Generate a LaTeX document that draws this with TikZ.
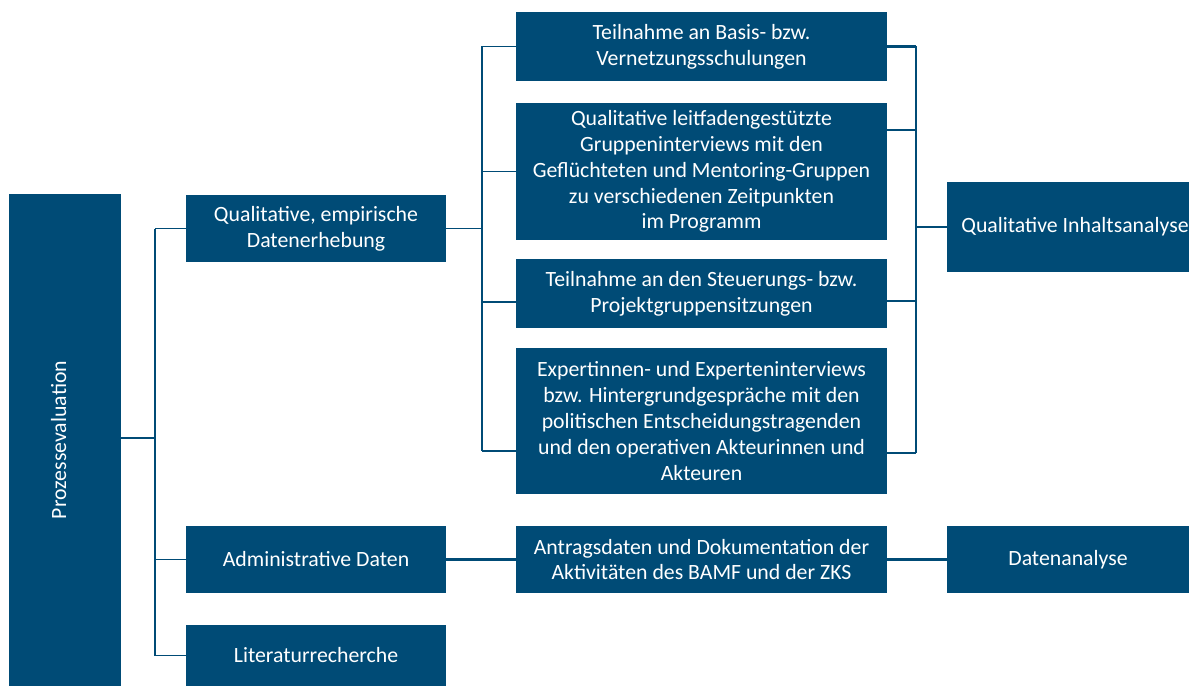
\documentclass[tikz,border=0pt]{standalone}
\usepackage{fontspec}
\setmainfont{Carlito}
\usetikzlibrary{positioning}
\definecolor{bamfblue}{HTML}{004B76}
\tikzset{
  box/.style = {rectangle, fill=bamfblue, text=white, align=center,
      inner sep=0pt, font=\fontsize{12.4}{14.7}\selectfont},
  col1/.style = {box, minimum width=5.2cm},
  col2/.style = {box, minimum width=7.42cm},
  col3/.style = {box, minimum width=4.84cm},
  link/.style = {draw=bamfblue, line width=1.1pt},
  rlink/.style = {draw=bamfblue, line width=1.6pt},
}
\begin{document}
\begin{tikzpicture}[x=.02cm, y=-.02cm]
  \useasboundingbox (0,0) rectangle (1189,686);

  % left column
  \node[box, minimum width=2.24cm, minimum height=9.84cm] (proz) at (65,440)
    {\rotatebox{90}{Prozessevaluation}\hspace{.25cm}};
  \node[col1, minimum height=1.36cm] (qed) at (316,228.5)
    {Qualitative, empirische\\Datenerhebung};
  \node[col1, minimum height=1.34cm] (adm) at (316,559.5) {Administrative Daten};
  \node[col1, minimum height=1.22cm] (lit) at (316,655.5) {Literaturrecherche};

  % middle column
  \node[col2, minimum height=1.38cm] (b1) at (701.5,46.5)
    {Teilnahme an Basis- bzw.\\Vernetzungsschulungen};
  \node[col2, minimum height=2.74cm] (b2) at (701.5,171.5)
    {Qualitative leitfadengestützte\\Gruppeninterviews mit den\\Geflüchteten und Mentoring-Gruppen\\zu verschiedenen Zeitpunkten\\im Programm};
  \node[col2, minimum height=1.38cm] (b3) at (701.5,293.5)
    {Teilnahme an den Steuerungs- bzw.\\Projektgruppensitzungen};
  \node[col2, minimum height=2.92cm] (b4) at (701.5,421)
    {Expertinnen- und Experteninterviews\\bzw. Hintergrundgespräche mit den\\politischen Entscheidungstragenden\\und den operativen Akteurinnen und\\Akteuren};
  \node[col2, minimum height=1.34cm] (antr) at (701.5,559.5)
    {Antragsdaten und Dokumentation der\\Aktivitäten des BAMF und der ZKS};

  % right column
  \node[col3, minimum height=1.8cm] (inh) at (1068,227) {\hspace{.28cm}Qualitative Inhaltsanalyse};
  \node[col3, minimum height=1.34cm] (dat) at (1068,559.5) {Datenanalyse};

  % left fork
  \coordinate (lfork) at (155,438);
  \draw[link] (proz.east |- lfork) -- (lfork);
  \draw[link] (lfork |- qed) -- (lfork |- lit);
  \draw[link] (lfork |- qed) -- (qed.west);
  \draw[link] (lfork |- adm) -- (adm.west);
  \draw[link] (lfork |- lit) -- (lit.west);

  % middle fork
  \coordinate (mfork) at (482,0);
  \coordinate (m3) at (482,302);
  \coordinate (m4) at (482,451);
  \draw[link] (qed.east) -- (mfork |- qed);
  \draw[link] (mfork |- b1) -- (m4);
  \draw[link] (mfork |- b1) -- (b1.west);
  \draw[link] (mfork |- b2) -- (b2.west);
  \draw[link] (m3) -- (m3 -| b3.west);
  \draw[link] (m4) -- (m4 -| b4.west);

  % right fork
  \coordinate (rfork) at (916,0);
  \coordinate (r2) at (916,130);
  \coordinate (r3) at (916,301);
  \coordinate (r4) at (916,453);
  \draw[rlink] (b1.east) -- (rfork |- b1);
  \draw[rlink] (r2 -| b2.east) -- (r2);
  \draw[rlink] (r3 -| b3.east) -- (r3);
  \draw[rlink] (r4 -| b4.east) -- (r4);
  \draw[rlink] (rfork |- b1) -- (r4);
  \draw[rlink] (rfork |- inh) -- (inh.west);

  % bottom row
  \draw[rlink] (adm) -- (antr);
  \draw[rlink] (antr) -- (dat);
\end{tikzpicture}
\end{document}
